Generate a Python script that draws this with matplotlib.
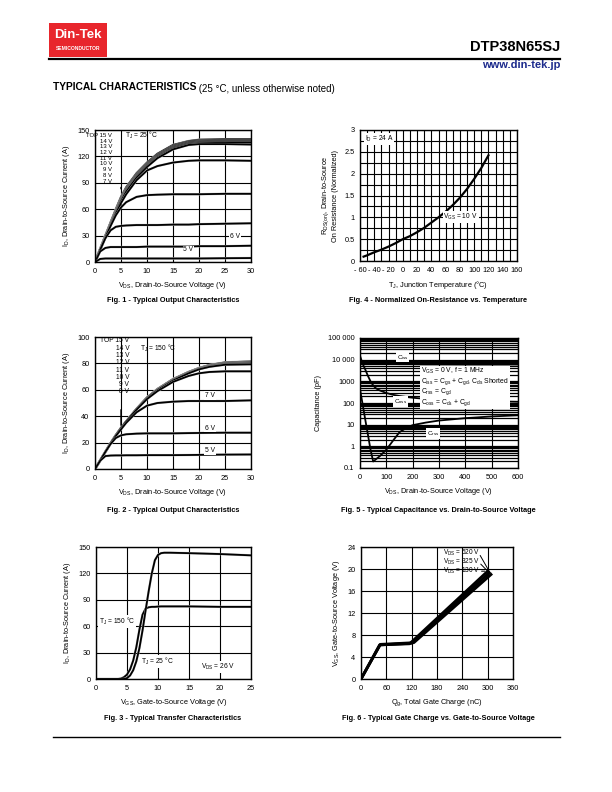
import numpy as np
import matplotlib
matplotlib.use("Agg")
import matplotlib.pyplot as plt
from matplotlib.patches import Rectangle
from matplotlib.lines import Line2D
from matplotlib.text import Annotation

plt.rcParams['font.family'] = ['Liberation Sans', 'DejaVu Sans']
plt.rcParams['mathtext.fontset'] = 'custom'
plt.rcParams['mathtext.rm'] = 'Liberation Sans'
plt.rcParams['mathtext.default'] = 'regular'

# ---- Fig. 1 : output characteristics, TJ = 25 C
f1_vds = [0, 1, 2, 3, 4, 5, 6, 8, 10, 12, 15, 18, 20, 25, 30]
f1_id = [
    [0, 15, 30, 45, 60, 74, 85, 101, 113, 123, 133, 137.5, 139, 139.5, 139.5],  # 15 V
    [0, 15, 30, 45, 59, 73, 84, 100, 112, 122, 132, 137, 138, 138.5, 138.5],    # 14 V
    [0, 15, 30, 44, 58, 72, 83, 99, 111, 121, 131, 136, 137, 137.5, 137.5],      # 13 V
    [0, 15, 29, 44, 58, 71, 82, 98, 110, 120, 130, 135, 136, 136.5, 136.5],      # 12 V
    [0, 15, 29, 43, 57, 70, 81, 97, 109, 119, 129, 134, 135, 135.5, 135.5],      # 11 V
    [0, 14, 29, 43, 56, 69, 80, 96, 108, 118, 128, 133, 134, 134, 133.5],        # 10 V
    [0, 14, 28, 42, 55, 67, 77, 93, 104, 109, 113, 115, 115.5, 115.5, 115],      # 9 V
    [0, 14, 28, 41, 53, 62, 68, 74, 76, 76.5, 77, 77, 77, 77.5, 77.5],           # 8 V
    [0, 14, 27, 36, 40, 41, 41.5, 42, 42, 42, 42.5, 42.5, 43, 43.5, 44],         # 7 V
    [0, 12, 16, 17, 17, 17, 17, 17, 17.5, 17.5, 17.5, 17.5, 18, 18, 18.5],       # 6 V
    [0, 3.5, 4, 4, 4, 4, 4, 4, 4, 4, 4, 4, 4, 4.3, 4.5],                         # 5 V
]
f1_list = ["TOP 15 V", "14 V", "13 V", "12 V", "11 V", "10 V", "9 V", "8 V", "7 V"]

# ---- Fig. 2 : output characteristics, TJ = 150 C
f2_vds = [0, 1, 2, 3, 4, 5, 6, 8, 10, 12, 15, 18, 20, 22, 25, 30]
f2_id = [
    [0, 6.5, 13, 19.5, 25.5, 31, 36, 45.5, 54, 60.5, 68, 73.5, 76.5, 78.8, 80.8, 81.5],  # 15 V
    [0, 6.5, 13, 19.5, 25.5, 31, 36, 45.5, 54, 60.5, 68, 73.5, 76.5, 78.6, 80.5, 81.2],  # 14 V
    [0, 6.5, 13, 19.5, 25.5, 31, 36, 45.5, 54, 60.5, 68, 73.3, 76.3, 78.4, 80.3, 80.9],  # 13 V
    [0, 6.5, 13, 19.5, 25.5, 31, 36, 45.5, 54, 60.3, 67.8, 73.2, 76.2, 78.2, 80.0, 80.6],  # 12 V
    [0, 6.5, 13, 19.5, 25.5, 31, 36, 45.5, 54, 60.2, 67.6, 73.0, 76.0, 78.0, 79.7, 80.2],  # 11 V
    [0, 6.5, 13, 19.5, 25.5, 31, 36, 45.5, 54, 60.0, 67.4, 72.8, 75.8, 77.7, 79.4, 79.8],  # 10 V
    [0, 6.5, 13, 19.5, 25.5, 31, 36, 45.5, 53.5, 59.8, 67.0, 72.5, 75.5, 77.4, 79.0, 79.3],  # 9 V
    [0, 6.5, 13, 19.5, 25.5, 31, 36, 45, 53, 59, 66, 70.5, 72.5, 73.5, 74, 74],           # 8 V
    [0, 6.5, 13, 19.5, 25, 30, 35, 43, 48, 50, 51, 51.5, 51.5, 51.5, 51.5, 52],            # 7 V
    [0, 6.5, 13, 19, 23.5, 25.5, 26.3, 26.8, 27, 27, 27, 27.2, 27.3, 27.4, 27.5, 27.5],    # 6 V
    [0, 6.3, 9.8, 10.2, 10.3, 10.3, 10.4, 10.4, 10.5, 10.5, 10.5, 10.6, 10.7, 10.8, 10.9, 11],  # 5 V
]
f2_list = ["TOP 15 V", "14 V", "13 V", "12 V", "11 V", "10 V", "9 V", "8 V"]

# ---- Fig. 3 : transfer characteristics
f3_vgs = [0, 3, 3.5, 4, 4.5, 5, 5.5, 6, 6.5, 7, 7.5, 8, 8.5, 9, 9.5, 10, 10.5, 11, 12, 15, 20, 25]
f3_id_150 = [0, 0, 0, 0.5, 2, 5, 11, 21, 36, 56, 73, 80, 81.5, 82, 82, 82.3, 82.5, 82.5, 82.5, 82.5, 82, 82]
f3_id_25 = [0, 0, 0, 0, 0, 1, 4, 10, 20, 35, 55, 78, 100, 120, 135, 141, 143, 143.5, 143.5, 143, 142, 140.5]

# ---- Fig. 4 : normalized on-resistance vs temperature
f4_tj = [-55, -50, -40, -30, -20, -10, 0, 10, 20, 30, 40, 50, 60, 70, 80, 90, 100, 110, 120]
f4_r = [0.1, 0.13, 0.2, 0.26, 0.33, 0.41, 0.5, 0.57, 0.66, 0.76, 0.88, 1.0, 1.13, 1.28, 1.45, 1.65, 1.88, 2.13, 2.42]
f4_xticks = [-60, -40, -20, 0, 20, 40, 60, 80, 100, 120, 140, 160]
f4_xlabels = ["- 60", "- 40", "- 20", "0", "20", "40", "60", "80", "100", "120", "140", "160"]

# ---- Fig. 5 : capacitance vs VDS
f5_vds = [0, 10, 20, 30, 40, 50, 60, 75, 100, 125, 150, 175, 200, 250, 300, 400, 500, 600]
f5_ciss = [7000, 6900, 6800, 6700, 6600, 6500, 6500, 6400, 6300, 6300, 6200, 6200, 6200, 6100, 6100, 6000, 6000, 6000]
f5_coss = [15000, 6500, 3500, 1800, 1000, 650, 480, 380, 290, 240, 210, 190, 175, 155, 140, 128, 120, 114]
f5_crss = [430, 87, 17, 3.5, 0.7, 0.2, 0.25, 0.35, 0.7, 1.8, 4.5, 7, 9.5, 12.5, 15.5, 20, 24, 27]
f5_ylabels = ["0.1", "1", "10", "100", "1000", "10 000", "100 000"]

# ---- Fig. 6 : gate charge
f6_q = [[0, 44, 115, 300], [0, 45, 120, 304], [0, 46, 125, 308]]
f6_v = [[0, 6.2, 6.4, 19.6], [0, 6.2, 6.5, 19.3], [0, 6.3, 6.6, 19.0]]
f6_names = ["130 V", "325 V", "520 V"]

W, H = 612, 792
fig = plt.figure(figsize=(W / 100, H / 100), dpi=100)
fs = 5.3


def add_ax(l, t, r, b):
    ax = fig.add_axes([l / W, 1 - b / H, (r - l) / W, (b - t) / H])
    ax.tick_params(length=0, labelsize=fs, pad=4)
    for s in ax.spines.values():
        s.set_linewidth(1.0)
    return ax


def curve(ax, x, y, lw=1.3):
    ax.plot(x, y, color='0.75', lw=lw + 0.4, solid_capstyle='butt')
    ax.plot(x, y, color='black', lw=lw)


white = dict(facecolor='white', edgecolor='none', pad=0.6)

# Fig 1
ax1 = add_ax(95, 130, 251, 262)
for ids in f1_id:
    curve(ax1, f1_vds, ids)
ax1.set_xlim(0, 30)
ax1.set_ylim(0, 150)
ax1.set_xticks(range(0, 31, 5))
ax1.set_yticks(range(0, 151, 30))
ax1.grid(True, color='black', lw=0.8)
ax1.set_axisbelow(True)
for i, s in enumerate(f1_list):
    ax1.text(3.3, 144 - 6.5 * i, s, fontsize=4.3, ha='right', va='center')
ax1.text(5.8, 144, "T$_J$ = 25 °C", fontsize=4.8, va='center')
ax1.annotate("", xy=(5, 80), xytext=(5, 88), arrowprops=dict(arrowstyle='-', lw=1))
ax1.text(26, 27, "6 V", fontsize=4.8, bbox=white)
ax1.text(17, 12, "5 V", fontsize=4.8, bbox=white)
ax1.set_xlabel("V$_{DS}$, Drain-to-Source Voltage (V)", fontsize=fs, labelpad=4)
ax1.set_ylabel("I$_D$, Drain-to-Source Current (A)", fontsize=fs, labelpad=4)

# Fig 2
ax2 = add_ax(95, 337, 251, 469)
for ids in f2_id:
    curve(ax2, f2_vds, ids)
ax2.set_xlim(0, 30)
ax2.set_ylim(0, 100)
ax2.set_xticks(range(0, 31, 5))
ax2.set_yticks(range(0, 101, 20))
ax2.grid(True, color='black', lw=0.8)
ax2.set_axisbelow(True)
for i, s in enumerate(f2_list):
    ax2.text(6.6, 97 - 5.5 * i, s, fontsize=4.8, ha='right', va='center')
ax2.text(8.7, 91, "T$_J$ = 150 °C", fontsize=4.8, va='center')
ax2.annotate("", xy=(5, 31), xytext=(5, 47), arrowprops=dict(arrowstyle='-', lw=1))
ax2.text(21.2, 55.7, "7 V", fontsize=4.8, va='center', bbox=white)
ax2.text(21.2, 31, "6 V", fontsize=4.8, va='center', bbox=white)
ax2.text(21.2, 13.7, "5 V", fontsize=4.8, va='center', bbox=white)
ax2.set_xlabel("V$_{DS}$, Drain-to-Source Voltage (V)", fontsize=fs, labelpad=4)
ax2.set_ylabel("I$_D$, Drain-to-Source Current (A)", fontsize=fs, labelpad=4)

# Fig 3
ax3 = add_ax(96, 547, 251, 679)
curve(ax3, f3_vgs, f3_id_150, lw=1.3)
curve(ax3, f3_vgs, f3_id_25, lw=1.3)
ax3.set_xlim(0, 25)
ax3.set_ylim(0, 150)
ax3.set_xticks(range(0, 26, 5))
ax3.set_yticks(range(0, 151, 30))
ax3.grid(True, color='black', lw=0.8)
ax3.set_axisbelow(True)
ax3.text(0.5, 65, "T$_J$ = 150 °C", fontsize=4.8, va='center', bbox=white)
ax3.text(7.2, 20, "T$_J$ = 25 °C", fontsize=4.8, va='center', bbox=white)
ax3.text(17, 14, "V$_{DS}$ = 26 V", fontsize=4.8, va='center', bbox=white)
ax3.set_xlabel("V$_{GS}$, Gate-to-Source Voltage (V)", fontsize=fs, labelpad=4)
ax3.set_ylabel("I$_D$, Drain-to-Source Current (A)", fontsize=fs, labelpad=4)

# Fig 4
ax4 = add_ax(360, 130, 517, 261)
ax4.plot(f4_tj, f4_r, color='black', lw=1.6)
ax4.set_xlim(-60, 160)
ax4.set_ylim(0, 3)
ax4.set_xticks(f4_xticks)
ax4.set_xticklabels(f4_xlabels)
ax4.set_xticks(np.arange(-60, 161, 10), minor=True)
ax4.set_yticks([0, 0.5, 1, 1.5, 2, 2.5, 3])
ax4.set_yticklabels(["0", "0.5", "1", "1.5", "2", "2.5", "3"])
ax4.set_yticks(np.arange(0, 3.01, 0.25), minor=True)
ax4.tick_params(which='minor', length=0)
ax4.grid(True, which='both', color='black', lw=0.8)
ax4.set_axisbelow(True)
ax4.text(-53, 2.79, "I$_D$ = 24 A", fontsize=4.8, va='center', bbox=white)
ax4.text(57, 1.0, "V$_{GS}$ = 10 V", fontsize=4.8, va='center', bbox=white)
ax4.set_xlabel("T$_J$, Junction Temperature (°C)", fontsize=fs, labelpad=4)
ax4.set_ylabel("R$_{DS(on)}$, Drain-to-Source\nOn Resistance (Normalized)", fontsize=fs, labelpad=4)

# Fig 5
ax5 = add_ax(360, 338, 518, 468)
ax5.set_yscale('log')
ax5.plot(f5_vds, f5_ciss, color='black', lw=1.3)
ax5.plot(f5_vds, f5_coss, color='black', lw=1.3)
ax5.plot(f5_vds, f5_crss, color='black', lw=1.3)
ax5.set_xlim(0, 600)
ax5.set_ylim(0.1, 100000)
ax5.set_xticks(range(0, 601, 100))
ax5.set_yticks([0.1, 1, 10, 100, 1000, 10000, 100000])
ax5.set_yticklabels(f5_ylabels)
ax5.tick_params(which='minor', length=0)
ax5.grid(True, which='both', axis='y', color='black', lw=0.9)
ax5.grid(True, which='major', axis='x', color='black', lw=0.8)
ax5.set_axisbelow(True)
ax5.text(140, 13000, "C$_{iss}$", fontsize=4.5, va='center', bbox=white)
ax5.text(130, 115, "C$_{oss}$", fontsize=4.5, va='center', bbox=white)
ax5.text(255, 4, "C$_{rss}$", fontsize=4.5, va='center', bbox=white)
ax5.text(232, 5000,
         "V$_{GS}$ = 0 V, f = 1 MHz\nC$_{iss}$ = C$_{gs}$ + C$_{gd}$, C$_{ds}$ Shorted\n"
         "C$_{rss}$ = C$_{gd}$\nC$_{oss}$ = C$_{ds}$ + C$_{gd}$",
         fontsize=4.9, va='top', linespacing=0.95,
         bbox=dict(facecolor='white', edgecolor='none', pad=0.8))
ax5.set_xlabel("V$_{DS}$, Drain-to-Source Voltage (V)", fontsize=fs, labelpad=4)
ax5.set_ylabel("Capacitance (pF)", fontsize=fs, labelpad=4)

# Fig 6
ax6 = add_ax(361, 547, 513, 679)
for q, v in zip(f6_q, f6_v):
    ax6.plot(q, v, color='black', lw=2.0)
ax6.set_xlim(0, 360)
ax6.set_ylim(0, 24)
ax6.set_xticks(range(0, 361, 60))
ax6.set_yticks(range(0, 25, 4))
ax6.grid(True, color='black', lw=0.8)
ax6.set_axisbelow(True)
for i, (q, v, name) in enumerate(zip(f6_q[::-1], f6_v[::-1], f6_names[::-1])):
    yt = 22.9 - 1.65 * i
    ax6.text(195, yt, "V$_{DS}$ = " + name, fontsize=4.7, va='center')
    ax6.annotate("", xy=(q[-1], v[-1]), xytext=(279, yt),
                 arrowprops=dict(arrowstyle='-', lw=0.7))
ax6.set_xlabel("Q$_g$, Total Gate Charge (nC)", fontsize=fs, labelpad=4)
ax6.set_ylabel("V$_{GS}$, Gate-to-Source Voltage (V)", fontsize=fs, labelpad=4)

# captions
caps = [
    (173, 300, "Fig. 1 - Typical Output Characteristics"),
    (438, 300, "Fig. 4 - Normalized On-Resistance vs. Temperature"),
    (173, 510, "Fig. 2 - Typical Output Characteristics"),
    (438, 510, "Fig. 5 - Typical Capacitance vs. Drain-to-Source Voltage"),
    (173, 719, "Fig. 3 - Typical Transfer Characteristics"),
    (438, 719, "Fig. 6 - Typical Gate Charge vs. Gate-to-Source Voltage"),
]
for x, y, s in caps:
    fig.text(x / W, 1 - y / H, s, fontsize=5.3, fontweight='bold', ha='center', va='center')

# header
fig.patches.append(Rectangle((49 / W, 1 - 57 / H), 58 / W, 34 / H, transform=fig.transFigure,
                             facecolor='#e8262c', edgecolor='none'))
fig.text(78 / W, 1 - 35 / H, "Din-Tek", color='white', fontsize=9.5, fontweight='bold',
         ha='center', va='center')
fig.text(78 / W, 1 - 49 / H, "SEMICONDUCTOR", color='white', fontsize=3.6, fontweight='bold',
         ha='center', va='center')
fig.lines.append(Line2D([49 / W, 560 / W], [1 - 58.5 / H, 1 - 58.5 / H], transform=fig.transFigure,
                        color='black', lw=1.6))
fig.text(560 / W, 1 - 47 / H, "DTP38N65SJ", fontsize=10.5, fontweight='bold', ha='right', va='center')
fig.text(560 / W, 1 - 65 / H, "www.din-tek.jp", fontsize=8, fontweight='bold', color='#1c2a8c',
         ha='right', va='center')
title = fig.text(53 / W, 1 - 90.5 / H, "TYPICAL CHARACTERISTICS", fontsize=7.4, fontweight='bold',
                 ha='left', va='baseline')
fig.add_artist(Annotation(" (25 °C, unless otherwise noted)", xy=(1, 0), xycoords=title,
                          fontsize=7, ha='left', va='baseline'))

fig.lines.append(Line2D([53 / W, 560 / W], [1 - 737 / H, 1 - 737 / H], transform=fig.transFigure,
                        color='black', lw=1.0))

fig.savefig("out.png", dpi=100)
